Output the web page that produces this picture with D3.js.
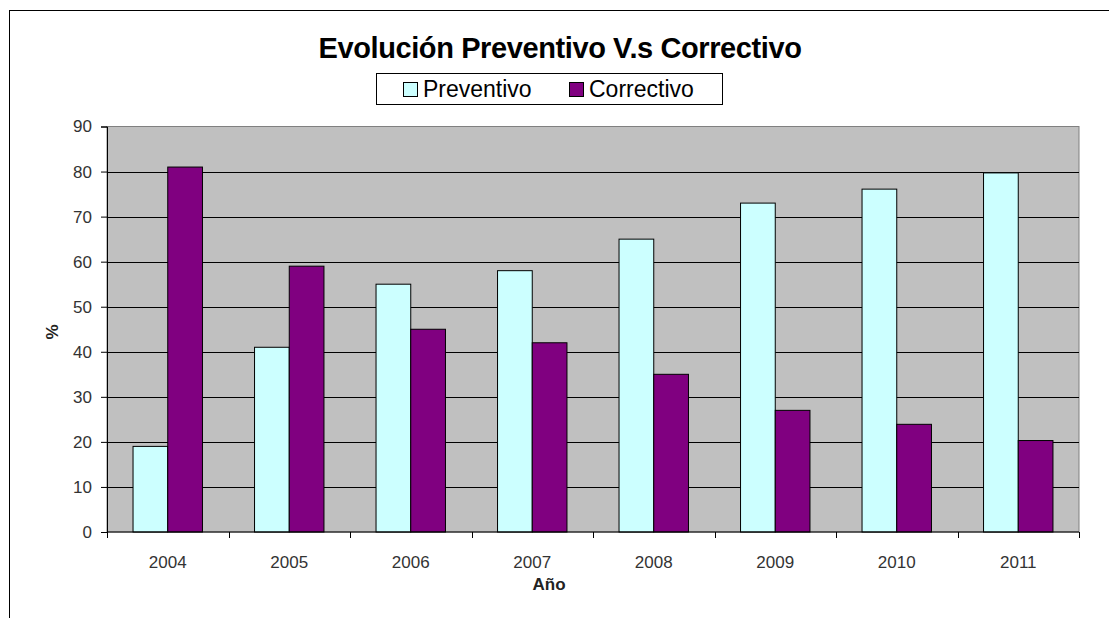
<!DOCTYPE html>
<html>
<head>
<meta charset="utf-8">
<script src="https://cdn.jsdelivr.net/npm/d3@7"></script>
<style>
  body { margin: 0; background: #fff; }
  text { font-family: "Liberation Sans", Arial, sans-serif; }
</style>
</head>
<body>
<svg id="chart" width="1109" height="618"></svg>
<script>
// chart data
var years = ['2004', '2005', '2006', '2007', '2008', '2009', '2010', '2011'];
var seriesNames = ['Preventivo', 'Correctivo'];
var preventivo = [19, 41, 55, 58, 65, 73, 76.1, 79.7];
var correctivo = [81, 59, 45, 42, 35, 27, 23.9, 20.3];
var yTicks = [0, 10, 20, 30, 40, 50, 60, 70, 80, 90];
var colors = {Preventivo: '#ccffff', Correctivo: '#800080'};

var svg = d3.select('#chart');
var plot = {left: 107, right: 1079, top: 126.5, bottom: 532};

// outer chart frame (runs off the picture at right and bottom)
svg.append('rect')
    .attr('x', 9.5).attr('y', 10.5)
    .attr('width', 1200).attr('height', 700)
    .attr('fill', 'none').attr('stroke', '#000').attr('stroke-width', 1);

var x0 = d3.scaleBand()
    .domain(years)
    .range([plot.left, plot.right]);

var barW = x0.bandwidth() / 3.5;
var x1 = d3.scaleBand()
    .domain(seriesNames)
    .range([(x0.bandwidth() - 2 * barW) / 2, (x0.bandwidth() + 2 * barW) / 2]);

var y = d3.scaleLinear()
    .domain([0, 90])
    .range([plot.bottom, plot.top]);

// plot background
svg.append('rect')
    .attr('x', plot.left).attr('y', plot.top)
    .attr('width', plot.right - plot.left).attr('height', plot.bottom - plot.top)
    .attr('fill', '#c0c0c0').attr('stroke', '#808080').attr('stroke-width', 1);

// gridlines
svg.append('g')
    .selectAll('line')
    .data(yTicks.filter(function(d) { return d > 0 && d < 90; }))
  .enter()
  .append('line')
    .attr('x1', plot.left).attr('x2', plot.right)
    .attr('y1', function(d) { return Math.round(y(d)) + 0.5; })
    .attr('y2', function(d) { return Math.round(y(d)) + 0.5; })
    .attr('stroke', '#000').attr('stroke-width', 1);

// bars
var rows = years.map(function(yr, i) {
    return {year: yr, values: [
        {name: 'Preventivo', value: preventivo[i]},
        {name: 'Correctivo', value: correctivo[i]}
    ]};
});

var groups = svg.append('g')
    .selectAll('g')
    .data(rows)
  .enter()
  .append('g')
    .attr('transform', function(d) { return 'translate(' + x0(d.year) + ',0)'; });

groups.selectAll('rect')
    .data(function(d) { return d.values; })
  .enter()
  .append('rect')
    .attr('x', function(d) { return x1(d.name); })
    .attr('y', function(d) { return y(d.value); })
    .attr('width', x1.bandwidth())
    .attr('height', function(d) { return plot.bottom - y(d.value); })
    .attr('fill', function(d) { return colors[d.name]; })
    .attr('stroke', '#000').attr('stroke-width', 1);

// y axis
var yAxis = d3.axisLeft(y)
    .tickValues(yTicks)
    .tickSize(6)
    .tickPadding(9);
var gy = svg.append('g')
    .attr('transform', 'translate(' + plot.left + ',0)')
    .call(yAxis);
gy.select('.domain').attr('stroke', '#000');
gy.selectAll('.tick line').attr('stroke', '#000');
gy.selectAll('text')
    .attr('font-size', 17)
    .attr('fill', '#333')
    .style('font-family', '"Liberation Sans", Arial, sans-serif');

// x axis: ticks on category boundaries
var gx = svg.append('g')
    .attr('transform', 'translate(0,' + plot.bottom + ')');
gx.append('line')
    .attr('x1', plot.left).attr('x2', plot.right)
    .attr('y1', 0).attr('y2', 0)
    .attr('stroke', '#000');
gx.selectAll('.bound')
    .data(years.concat(['end']))
  .enter()
  .append('line')
    .attr('class', 'bound')
    .attr('x1', function(d, i) { return Math.round(plot.left + i * x0.step()) + 0.5; })
    .attr('x2', function(d, i) { return Math.round(plot.left + i * x0.step()) + 0.5; })
    .attr('y1', 0).attr('y2', 6)
    .attr('stroke', '#000');
gx.selectAll('.lbl')
    .data(years)
  .enter()
  .append('text')
    .attr('class', 'lbl')
    .attr('x', function(d) { return x0(d) + x0.bandwidth() / 2; })
    .attr('y', 36)
    .attr('text-anchor', 'middle')
    .attr('font-size', 17)
    .attr('fill', '#333')
    .text(function(d) { return d; });

// axis titles
svg.append('text')
    .attr('x', 549).attr('y', 590)
    .attr('text-anchor', 'middle')
    .attr('font-size', 17).attr('font-weight', 'bold')
    .attr('fill', '#222')
    .text('Año');

svg.append('text')
    .attr('transform', 'translate(58,332) rotate(-90)')
    .attr('text-anchor', 'middle')
    .attr('font-size', 17).attr('font-weight', 'bold')
    .attr('fill', '#222')
    .text('%');

// title
svg.append('text')
    .attr('x', 560).attr('y', 58)
    .attr('text-anchor', 'middle')
    .attr('font-size', 29).attr('font-weight', 'bold')
    .attr('letter-spacing', -0.4)
    .attr('fill', '#000')
    .text('Evolución Preventivo V.s Correctivo');

// legend
var legend = svg.append('g');
legend.append('rect')
    .attr('x', 376.5).attr('y', 73.5)
    .attr('width', 346).attr('height', 31)
    .attr('fill', '#fff').attr('stroke', '#000');

var legendX = [403, 569];
var items = legend.selectAll('.item')
    .data(seriesNames)
  .enter()
  .append('g')
    .attr('class', 'item')
    .attr('transform', function(d, i) { return 'translate(' + legendX[i] + ',82)'; });
items.append('rect')
    .attr('x', 0.5).attr('y', 0.5)
    .attr('width', 14).attr('height', 14)
    .attr('fill', function(d) { return colors[d]; })
    .attr('stroke', '#000');
items.append('text')
    .attr('x', 20).attr('y', 15)
    .attr('font-size', 23)
    .attr('fill', '#000')
    .text(function(d) { return d; });
</script>
</body>
</html>
